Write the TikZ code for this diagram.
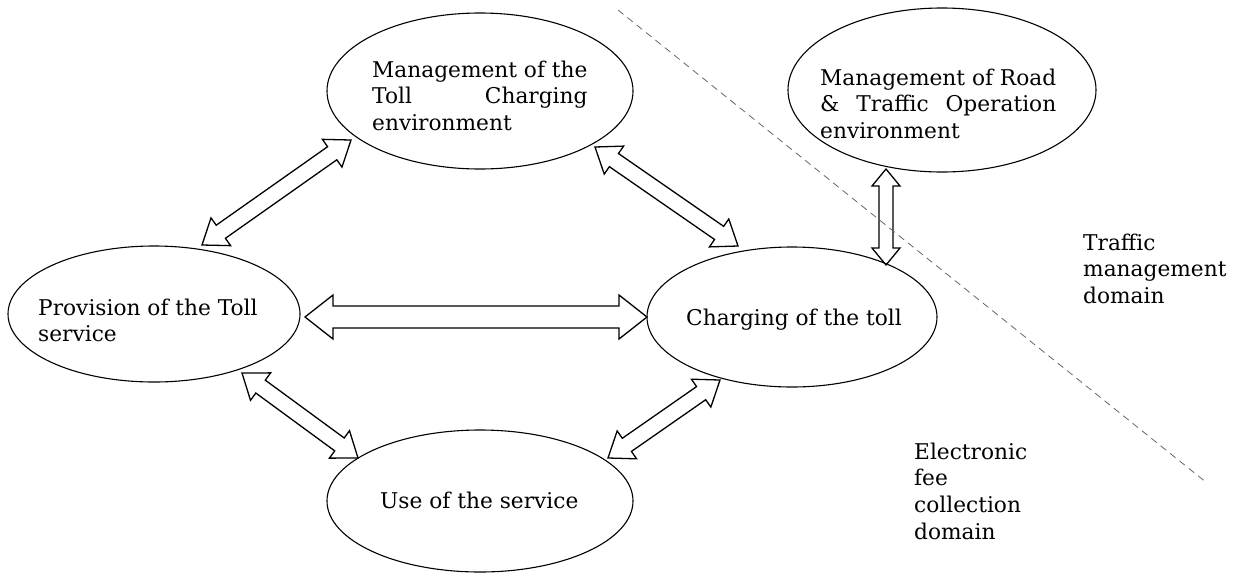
\documentclass[tikz,border=0pt]{standalone}
\usepackage{fontspec}
\setmainfont{DejaVu Serif}
\usetikzlibrary{calc,shapes.geometric}

\tikzset{
  ell/.style={draw, ellipse, line width=1.1pt, inner sep=0pt},
  lbl/.style={anchor=base west, inner sep=0pt, font=\fontsize{21.7}{26.8}\selectfont},
  arr/.style={draw, line width=1.3pt, line join=miter},
  border/.style={draw=black!60, line width=0.8pt, dash pattern=on 7pt off 5pt}
}

% hollow double-headed block arrow between two named points
% #1,#2 tips; #3 half shaft width; #4 half head width; #5 head length
\newcommand\blockarrow[5]{%
  \coordinate (#1-h) at ($(#1)!#5!(#2)$);
  \coordinate (#2-h) at ($(#2)!#5!(#1)$);
  \draw[arr] (#1)
    -- ($(#1-h)!#4!90:(#2)$)
    -- ($(#1-h)!#3!90:(#2)$)
    -- ($(#2-h)!#3!-90:(#1)$)
    -- ($(#2-h)!#4!-90:(#1)$)
    -- (#2)
    -- ($(#2-h)!#4!90:(#1)$)
    -- ($(#2-h)!#3!90:(#1)$)
    -- ($(#1-h)!#3!-90:(#2)$)
    -- ($(#1-h)!#4!-90:(#2)$)
    -- cycle;}

\begin{document}
\begin{tikzpicture}[x=1pt,y=-1pt]
\useasboundingbox (0,0) rectangle (1239,576);

% ellipses
\node[ell, minimum width=306pt, minimum height=156pt] (mtc) at (480,91) {};
\node[ell, minimum width=308pt, minimum height=164pt] (mrt) at (942,90) {};
\node[ell, minimum width=292pt, minimum height=136pt] (prov) at (154,314) {};
\node[ell, minimum width=290pt, minimum height=140pt] (chg) at (792,317) {};
\node[ell, minimum width=306pt, minimum height=142pt] (use) at (480,501) {};

% labels
\node[lbl] (mtc-t) at (372,77) {\begin{tabular}[t]{@{}l@{}}Management of the\\Toll\hfill Charging\\environment\end{tabular}};
\node[lbl] (mrt-t) at (820,85) {\begin{tabular}[t]{@{}l@{}}Management of Road\\\&\hfill Traffic\hfill Operation\\environment\end{tabular}};
\node[lbl] (prov-t) at (38,315) {\begin{tabular}[t]{@{}l@{}}Provision of the Toll\\service\end{tabular}};
\node[lbl] (chg-t) at (686,325) {Charging of the toll};
\node[lbl] (use-t) at (380,508) {Use of the service};
\node[lbl] (tmd) at (1083,250) {\begin{tabular}[t]{@{}l@{}}Traffic\\management\\domain\end{tabular}};
\node[lbl] (efc) at (914,459) {\begin{tabular}[t]{@{}l@{}}Electronic\\fee\\collection\\domain\end{tabular}};

% arrow tips
\coordinate (a1) at (202,245); \coordinate (a2) at (351,140);
\coordinate (b1) at (595,147); \coordinate (b2) at (738,246);
\coordinate (h1) at (305,317); \coordinate (h2) at (647,317);
\coordinate (v1) at (886,169); \coordinate (v2) at (886,265);
\coordinate (e1) at (242,373); \coordinate (e2) at (358,458);
\coordinate (f1) at (608,458); \coordinate (f2) at (720,380);

\blockarrow{a1}{a2}{8pt}{17pt}{23pt}
\blockarrow{b1}{b2}{8pt}{17pt}{23pt}
\blockarrow{h1}{h2}{11pt}{22pt}{28pt}
\blockarrow{v1}{v2}{7pt}{14pt}{17pt}
\blockarrow{e1}{e2}{8pt}{17pt}{23pt}
\blockarrow{f1}{f2}{8pt}{17pt}{23pt}

% domain boundary
\coordinate (d1) at (618,10);
\coordinate (d2) at (1207,483);
\draw[border] (d1) -- (d2);
\end{tikzpicture}
\end{document}
